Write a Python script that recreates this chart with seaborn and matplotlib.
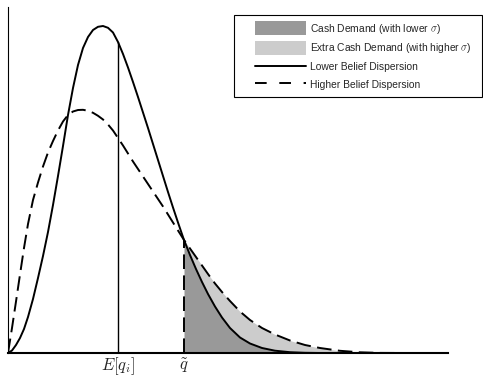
import matplotlib
matplotlib.use("Agg")
import matplotlib.pyplot as plt
from matplotlib.lines import Line2D
from matplotlib.patches import Patch, Rectangle
from matplotlib.legend_handler import HandlerPatch
import numpy as np
import pandas as pd
import seaborn as sns

# Values (arbitrary units)
q = [0, 0.4, 0.8, 1.2, 1.6, 2.0, 2.5, 3.0, 3.5, 4.0, 4.5, 5.0, 5.5, 6.0, 6.5, 7.0,
     7.5, 8.0, 8.5, 9.0, 9.5, 10.0, 10.5, 11.0, 11.5, 12.0, 12.5, 13.0, 13.5, 14.0,
     14.5, 15.0, 15.5, 16.0, 16.5, 17.0, 17.6, 18.2, 18.8, 19.4, 20.0, 20.7, 21.4,
     22.2, 23.2, 24.2, 25.4, 26.7, 28.2, 29.7, 31.2, 33.2, 35.2, 37.2, 40.2, 44.0]
lower_disp = [0, 0.25, 0.8, 1.5, 2.4, 3.6, 5.4, 7.5, 9.7, 12.1, 14.8, 17.7, 20.7, 23.8,
              26.5, 28.8, 30.5, 31.6, 32.3, 32.62, 32.7, 32.52, 32.05, 31.1, 29.9, 28.55,
              27.1, 25.6, 24.05, 22.5, 20.9, 19.3, 17.7, 16.1, 14.55, 13.05, 11.3, 9.8,
              8.4, 7.1, 5.9, 4.65, 3.55, 2.5, 1.55, 0.95, 0.5, 0.23, 0.08, 0.02, 0, 0,
              0, 0, 0, 0]
higher_disp = [0, 2.5, 5.15, 7.85, 10.5, 12.9, 15.3, 17.05, 18.65, 20.05, 21.2, 22.25,
               23.15, 23.8, 24.15, 24.3, 24.32, 24.22, 24.02, 23.72, 23.35, 22.85, 22.25,
               21.5, 20.75, 19.95, 19.15, 18.4, 17.65, 16.9, 16.15, 15.4, 14.65, 13.85,
               13.05, 12.25, 11.3, 10.45, 9.6, 8.75, 7.9, 6.95, 6.1, 5.2, 4.15, 3.3, 2.5,
               1.85, 1.25, 0.8, 0.5, 0.22, 0.07, 0.01, 0, 0]
E_q = 11.0
q_tilde = 17.6
tick_labels = [r"$E[q_i]$", r"$\tilde{q}$"]
legend_labels = [r"Cash Demand (with lower $\sigma$)",
                 r"Extra Cash Demand (with higher $\sigma$)",
                 "Lower Belief Dispersion",
                 "Higher Belief Dispersion"]

df = pd.DataFrame({"q": q, "lower": lower_disp, "higher": higher_disp})

sns.set_theme(style="white")
plt.rcParams["font.family"] = ["Liberation Sans", "DejaVu Sans"]
plt.rcParams["mathtext.fontset"] = "cm"

W, H = 483, 378
fig = plt.figure(figsize=(W / 100, H / 100), dpi=100)
ax = fig.add_axes([8 / W, 25 / H, 440 / W, 346 / H])

dash = (0, (7.5, 3.3))
tail = df[df["q"] >= q_tilde]
ax.fill_between(tail["q"], 0, tail["lower"], color="#999999", lw=0, zorder=1)
ax.fill_between(tail["q"], tail["lower"], tail["higher"], color="#cccccc", lw=0, zorder=1)

sns.lineplot(data=df, x="q", y="lower", color="black", lw=1.4, ax=ax, zorder=3)
sns.lineplot(data=df, x="q", y="higher", color="black", lw=1.4, linestyle=dash, ax=ax, zorder=3)

ax.plot([E_q, E_q], [0, np.interp(E_q, df["q"], df["lower"])], color="black", lw=1.0, zorder=2)
ax.plot([q_tilde, q_tilde], [0, np.interp(q_tilde, df["q"], df["higher"])],
        color="black", lw=1.4, linestyle=dash, zorder=2)

ax.set_xlim(0, 44)
ax.set_ylim(0, 34.6)
ax.set_xticks([E_q, q_tilde], labels=tick_labels)
ax.set_yticks([])
ax.tick_params(axis="x", length=0, pad=2, labelsize=12)
ax.set_xlabel("")
ax.set_ylabel("")
ax.set_facecolor("white")
for side in ["top", "right"]:
    ax.spines[side].set_visible(False)
ax.spines["left"].set_color("black")
ax.spines["left"].set_linewidth(0.8)
ax.spines["bottom"].set_color("black")
ax.spines["bottom"].set_linewidth(1.5)


def tall_patch(legend, orig_handle, xdescent, ydescent, width, height, fontsize):
    mid = -ydescent + height / 2
    return Rectangle((-xdescent, mid - 5), width, 10)


# legend with a hand-drawn frame
handles = [Patch(facecolor="#999999", edgecolor="none"),
           Patch(facecolor="#cccccc", edgecolor="none"),
           Line2D([], [], color="black", lw=1.4),
           Line2D([], [], color="black", lw=1.4, linestyle=(0, (6, 6.5)))]
fig.legend(handles, legend_labels, loc="upper left",
           bbox_to_anchor=(255 / W, 1 - 21.5 / H), frameon=False, fontsize=7.4,
           handlelength=5.0, handleheight=1.4, handletextpad=0.4,
           labelspacing=0.56, borderpad=0, borderaxespad=0,
           handler_map={Patch: HandlerPatch(patch_func=tall_patch)})
fig.patches.append(Rectangle((234 / W, 1 - 97 / H), 248 / W, 82 / H,
                             transform=fig.transFigure, fill=False,
                             edgecolor="black", lw=0.8))

fig.savefig("out.png", dpi=100)
